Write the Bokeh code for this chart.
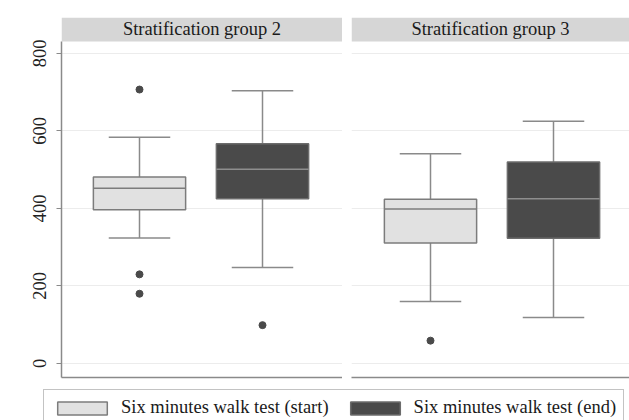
from bokeh.plotting import figure
from bokeh.models import Range1d, FixedTicker, BoxAnnotation, Label, Legend, LegendItem
from bokeh.layouts import column, row
from bokeh.embed import file_html
from bokeh.resources import INLINE

groups = ["Stratification group 2", "Stratification group 3"]
series = ["Six minutes walk test (start)", "Six minutes walk test (end)"]

# values per group, ordered [start, end]
lower_whisker = [[324, 248], [160, 119]]
q1 = [[397, 425], [311, 323]]
median = [[452, 501], [399, 425]]
q3 = [[481, 567], [424, 520]]
upper_whisker = [[584, 704], [541, 625]]
outliers = [[[707, 230, 180], [99]], [[59], []]]
y_ticks = [0, 200, 400, 600, 800]

FONT = "Liberation Serif"
FS = "18.5px"
FILL = ["#e1e1e1", "#4a4a4a"]
EDGE = ["#7c7c7c", "#6c6c6c"]
MED = ["#7c7c7c", "#8e8e8e"]
WHISK = "#8a8a8a"
STRIP = "#d6d6d6"
AXIS = "#8a8a8a"

Y0, Y1, YSTRIP = -36.13, 892.9, 831.0
BOX_W, CAP_W = 0.75, 0.5
PX_PER_UNIT = 123.0


def panel(gi, width, border_left, frame_w, first_center_off, show_y):
    x_start = 1 - first_center_off / PX_PER_UNIT
    x_end = x_start + frame_w / PX_PER_UNIT
    p = figure(width=width, height=384, output_backend="svg", toolbar_location=None,
               x_range=Range1d(x_start, x_end), y_range=Range1d(Y0, Y1),
               min_border_left=border_left, min_border_right=0,
               min_border_top=17, min_border_bottom=7)
    p.outline_line_color = None
    p.background_fill_color = "white"
    p.border_fill_color = "white"
    p.xgrid.visible = False
    p.ygrid.ticker = FixedTicker(ticks=y_ticks)
    p.ygrid.grid_line_color = "#ececec"
    p.ygrid.grid_line_width = 1

    xa = p.xaxis[0]
    xa.ticker = FixedTicker(ticks=[])
    xa.major_tick_out = 0
    xa.major_tick_in = 0
    xa.minor_tick_out = 0
    xa.major_label_standoff = 0
    xa.axis_line_color = AXIS
    xa.axis_line_width = 1.5

    ya = p.yaxis[0]
    if show_y:
        ya.ticker = FixedTicker(ticks=y_ticks)
        ya.bounds = (Y0, YSTRIP)
        ya.axis_line_color = AXIS
        ya.axis_line_width = 1.5
        ya.major_tick_line_color = AXIS
        ya.major_tick_out = 5
        ya.major_tick_in = 0
        ya.minor_tick_line_color = None
        ya.major_label_orientation = "vertical"
        ya.major_label_text_font = FONT
        ya.major_label_text_font_size = FS
        ya.major_label_text_color = "#222222"
        ya.major_label_standoff = 10
    else:
        ya.visible = False

    # strip header
    p.add_layout(BoxAnnotation(bottom=YSTRIP, fill_color=STRIP, fill_alpha=1.0,
                               line_color=None, level="underlay"))
    p.add_layout(Label(x=(x_start + x_end) / 2, y=(YSTRIP + Y1) / 2, text=groups[gi],
                       text_align="center", text_baseline="middle",
                       text_font=FONT, text_font_size=FS, text_color="#1a1a1a"))

    for si in range(len(series)):
        xc = si + 1
        lw, a, m, b, uw = (lower_whisker[gi][si], q1[gi][si], median[gi][si],
                           q3[gi][si], upper_whisker[gi][si])
        p.segment(x0=[xc, xc], y0=[lw, b], x1=[xc, xc], y1=[a, uw],
                  line_color=WHISK, line_width=1.5)
        p.segment(x0=[xc - CAP_W / 2] * 2, y0=[lw, uw], x1=[xc + CAP_W / 2] * 2, y1=[lw, uw],
                  line_color=WHISK, line_width=1.5)
        p.vbar(x=[xc], width=BOX_W, bottom=[a], top=[b], fill_color=FILL[si],
               line_color=EDGE[si], line_width=1.5)
        p.segment(x0=[xc - BOX_W / 2], y0=[m], x1=[xc + BOX_W / 2], y1=[m],
                  line_color=MED[si], line_width=1.5)
        outs = outliers[gi][si]
        if outs:
            p.scatter(x=[xc] * len(outs), y=outs, size=7, fill_color="#4a4a4a",
                      line_color="#4a4a4a")
    return p


p1 = panel(0, 342, 61, 281, 78, True)
p2 = panel(1, 287, 9, 278, 79, False)

leg = figure(width=629, height=36, output_backend="svg", toolbar_location=None,
             x_range=Range1d(0, 1), y_range=Range1d(0, 1),
             min_border_left=38, min_border_right=0, min_border_top=0, min_border_bottom=0)
leg.axis.visible = False
leg.grid.visible = False
leg.outline_line_color = None
items = []
for si, name in enumerate(series):
    # legend-only copies of the boxes (hidden; only their legend swatches show)
    r = leg.vbar(x=[si + 1], width=BOX_W, bottom=[q1[0][si]], top=[q3[0][si]],
                 fill_color=FILL[si], line_color=EDGE[si], line_width=1.5)
    r.visible = False
    items.append(LegendItem(label=name, renderers=[r]))
legend = Legend(items=items, orientation="horizontal", location="top_left",
                border_line_color="#888888", border_line_width=1.5,
                background_fill_color="white", background_fill_alpha=1.0,
                inactive_fill_alpha=0.0,
                padding=7, spacing=15, margin=5,
                glyph_width=62, glyph_height=16, label_standoff=8,
                label_text_font=FONT, label_text_font_size=FS,
                label_text_color="#1a1a1a", label_height=18)
leg.add_layout(legend, "center")

layout = column(row(p1, p2), leg)
open("out.html", "w").write(file_html(layout, INLINE))
